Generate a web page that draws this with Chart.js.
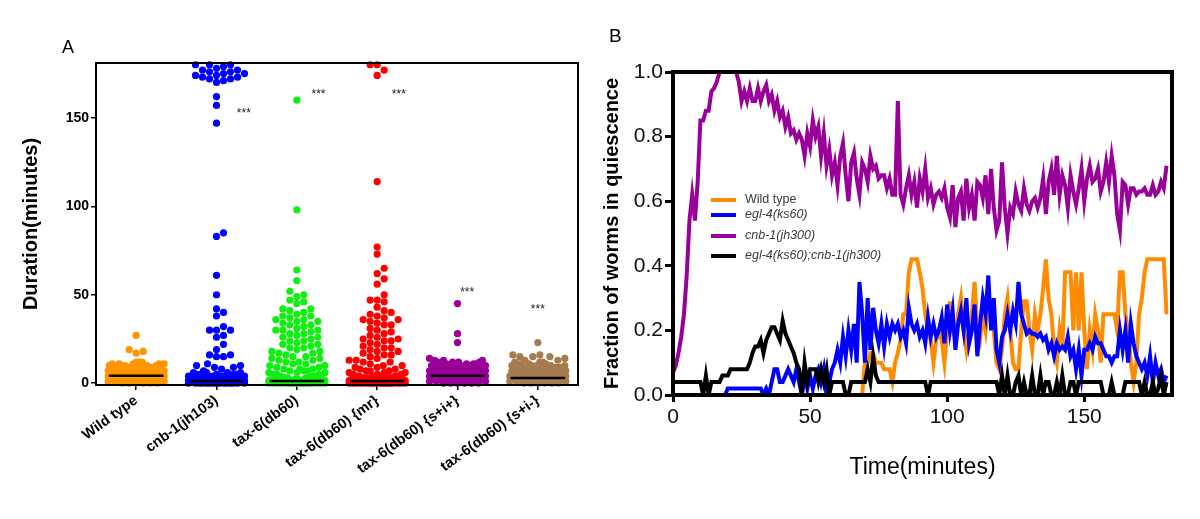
<!DOCTYPE html>
<html>
<head>
<meta charset="utf-8">
<script src="https://cdn.jsdelivr.net/npm/chart.js@4.4.1/dist/chart.umd.min.js"></script>
<style>
  body { margin: 0; background: #fff; width: 1200px; height: 519px; overflow: hidden; position: relative; }
  .panel { position: absolute; top: 0; width: 600px; height: 519px; }
  #panelA { left: 0; }
  #panelB { left: 600px; }
</style>
</head>
<body>
<div class="panel" id="panelA"><canvas id="chartA" width="600" height="519"></canvas></div>
<div class="panel" id="panelB"><canvas id="chartB" width="600" height="519"></canvas></div>
<script>
// ---------- panel A data (durations, minutes) ----------
const categories = ["Wild type", "cnb-1(jh103)", "tax-6(db60)", "tax-6(db60) {mr}", "tax-6(db60) {s+i+}", "tax-6(db60) {s+i-}"];
const dotColors = ["#FF9500", "#0000FF", "#11EE11", "#FF0000", "#990099", "#A67B4F"];

const wildType = [0,0,0,0,0,0,
  1,1,1,1,1,1,1,1,1,1, 2,2,2,2,2,2,2,2,2,2, 3,3,3,3,3,3,3,3,3,3, 4,4,4,4,4,4,4,4,4,4,
  5,5,5,5,5,5,5,5,5, 6,6,6,6,6,6,6,6, 7,7,7,7,7,7,7,7, 8,8,8,8,8,8,8, 9,9,9,9,9,9,
  10,10,10,10,10,10, 11,11,11,11,11, 12,12,12, 17,18,19,27];
const cnb1 = [180,180,180,179,178,177,177,176,176,175,175,174,174,173,173,172,172,171,170,
  162,157,147,85,83,61,50,42,40,38,32,30,30,30,27,26,22,19,16,16,15,15,11,10,10,9,9,8,7,
  0,0,0,0,0,0,0,0,0,0,0,0,0,0,0, 0.5,0.5,0.5,0.5,0.5,0.5,0.5,0.5,0.5,0.5,0.5,0.5,0.5,0.5,0.5,
  1,1,1,1,1,1,1,1,1,1,1,1,1,1,1, 1.5,1.5,1.5,1.5,1.5,1.5,1.5,1.5,1.5,1.5,
  2,2,2,2,2,2,2,2, 3,3,3,3,3,3,3, 4,4,4,4,4,4, 5,5,5,5,5, 6,6,6,6];
const tax6 = [160,98,64,58,52,50,49,47,46,45,42,42,41,40,39,38,38,37,36,36,35,35,34,33,33,32,31,30,30,30,29,28,28,27,26,
  26,25,24,24,23,22,22,21,20,20,19,18,18,17,17,16,15,15,14,14,13,13,12,12,11,11,10,10,9,9,8,8,8,7,7,7,6,6,6,5,5,5,4,4,4,
  0,0,0,0,0,0,0,0,0,0,0,0,0,0,0,0,0,0,0,0, 0.5,0.5,0.5,0.5,0.5,0.5,0.5,0.5,0.5,0.5,0.5,0.5,0.5,0.5,0.5,
  1,1,1,1,1,1,1,1,1,1,1,1,1,1,1, 1.5,1.5,1.5,1.5,1.5,1.5,1.5,1.5,1.5,1.5,
  2,2,2,2,2,2,2,2, 3,3,3,3,3,3];
const tax6mr = [180,180,177,174,114,77,73,65,62,59,56,50,47,47,46,43,41,40,39,38,37,36,36,35,34,33,33,31,30,29,28,27,26,
  25,25,24,24,23,22,21,20,20,19,18,18,17,16,16,15,14,13,13,12,12,11,10,10,9,9,8,8,7,7,7,6,6,6,5,5,5,
  0,0,0,0,0,0,0,0,0,0,0,0,0,0,0,0,0,0,0,0, 0.5,0.5,0.5,0.5,0.5,0.5,0.5,0.5,0.5,0.5,0.5,0.5,0.5,0.5,0.5,
  1,1,1,1,1,1,1,1,1,1,1,1,1,1,1, 1.5,1.5,1.5,1.5,1.5,1.5,1.5,1.5,1.5,1.5,
  2,2,2,2,2,2,2,2, 3,3,3,3,3,3,3,3, 4,4,4,4,4,4];
const tax6sip = [45,28,23,14,13,13,13,12,12,12,12,11,11,11,11,11,10,10,10,10,10,10,
  9,9,9,9,9,9, 8,8,8,8,8,8,8, 7,7,7,7,7,7,7, 6,6,6,6,6,6,6,6, 5,5,5,5,5,5,5,5,
  4,4,4,4,4,4,4,4,4, 3,3,3,3,3,3,3,3,3, 2,2,2,2,2,2,2,2,2, 1,1,1,1,1,1,1,1, 0,0,0,0,0,0];
const tax6sim = [23,16,16,15,15,15,14,13,13,12,12,12,11,11,11,11,10,10,10,10,10,
  9,9,9,9,9,9, 8,8,8,8,8,8, 7,7,7,7,7,7,7, 6,6,6,6,6,6,6, 5,5,5,5,5,5,5,5,
  4,4,4,4,4,4,4,4, 3,3,3,3,3,3,3,3,3, 2,2,2,2,2,2,2,2,2, 1,1,1,1,1,1,1,1, 0,0,0,0,0,0];
const groupValues = [wildType, cnb1, tax6, tax6mr, tax6sip, tax6sim];
const medians = [4.2, 1.3, 1.3, 1.3, 4.2, 3.0];
const starX = [null, 2.34, 3.27, 4.27, 5.12, 6.0];
const starY = [null, 154, 165, 165, 53, 43];
const yTicksA = [0, 50, 100, 150];

// ---------- panel B data (fraction quiescent, one value per minute 0..180) ----------
const seriesLabels = ["Wild type", "egl-4(ks60)", "cnb-1(jh300)", "egl-4(ks60);cnb-1(jh300)"];
const lineColors = ["#FF8C00", "#0000FF", "#990099", "#000000"];
const wildTypeLine = [
  0,0,0,0,0,0,0,0,0,0, 0,0,0,0,0,0,0,0,0,0, 0,0,0,0,0,0,0,0,0,0, 0,0,0,0,0,0,0,0,0,0,
  0,0,0,0,0,0,0,0,0,0, 0,0,0,0,0,0,0,0,0,0, 0,0,0,0,0,0,0,0,0,0,
  0.1,0.1,0.13,0.13,0.1,0.1,0.1,0.08,0.08,0.08,
  0.04,0.1,0.13,0.17,0.25,0.25,0.38,0.42,0.42,0.42,
  0.38,0.33,0.25,0.2,0.17,0.1,0.17,0.2,0.17,0.1,
  0.2,0.29,0.2,0.17,0.25,0.3,0.2,0.14,0.2,0.25,
  0.35,0.2,0.17,0.25,0.2,0.3,0.25,0.2,0.1,0.08,
  0.14,0.25,0.3,0.2,0.1,0.08,0.08,0.2,0.29,0.29,
  0.2,0.14,0.25,0.2,0.25,0.33,0.42,0.3,0.25,0.14,
  0.1,0.2,0.14,0.38,0.38,0.38,0.2,0.38,0.2,0.38,
  0.2,0.08,0.2,0.14,0.25,0.2,0.1,0.25,0.25,0.25,
  0.25,0.25,0.2,0.38,0.38,0.25,0.2,0.1,0.04,0.1,
  0.25,0.3,0.38,0.42,0.42,0.42,0.42,0.42,0.42,0.42,
  0.25];
const egl4Line = [
  0,0,0,0,0,0,0,0,0,0, 0,0,0,0,0,0,0,0,0,0,
  0.02,0.02,0.02,0.02,0.02,0.02,0.02,0.02,0.02,0.02,
  0.02,0.02,0.02,0,0.02,0,0.04,0.08,0.08,0.04,
  0.04,0.06,0.08,0.06,0.04,0.08,0.04,0,0.06,0.02,
  0.06,0.02,0.06,0.08,0.04,0.08,0,0.04,0.08,0.1,
  0.14,0.1,0.18,0.12,0.2,0.14,0.22,0.1,0.35,0.25,
  0.1,0.3,0.14,0.27,0.2,0.16,0.22,0.15,0.22,0.18,
  0.22,0.2,0.22,0.18,0.2,0.16,0.27,0.22,0.2,0.22,
  0.18,0.2,0.16,0.24,0.18,0.22,0.18,0.2,0.24,0.16,
  0.28,0.2,0.26,0.14,0.22,0.26,0.2,0.3,0.16,0.2,
  0.28,0.12,0.22,0.3,0.25,0.37,0.2,0.3,0.14,0.1,
  0.18,0.2,0.25,0.2,0.26,0.22,0.35,0.25,0.22,0.19,
  0.2,0.19,0.19,0.18,0.19,0.17,0.18,0.14,0.16,0.12,
  0.16,0.14,0.15,0.14,0.18,0.12,0.14,0.08,0.14,0.06,
  0.14,0.14,0.16,0.14,0.18,0.16,0.16,0.14,0.12,0.12,
  0.1,0.12,0.12,0.2,0.14,0.2,0.1,0.22,0.16,0.12,
  0.1,0.08,0.1,0.06,0.12,0.04,0.1,0.06,0.08,0.04,
  0.06];
const cnb1Line = [
  0.07,0.09,0.13,0.18,0.25,0.37,0.54,0.62,0.54,0.66,
  0.85,0.85,0.88,0.88,0.94,0.95,0.97,1.0,1.0,1.0,
  1.0,1.0,1.0,1.0,0.97,0.91,0.94,0.91,0.95,0.91,
  0.91,0.95,0.91,0.94,0.96,0.91,0.93,0.88,0.91,0.86,
  0.88,0.83,0.86,0.81,0.82,0.79,0.81,0.79,0.74,0.81,
  0.77,0.85,0.8,0.83,0.74,0.81,0.71,0.76,0.68,0.72,
  0.65,0.74,0.78,0.68,0.6,0.72,0.75,0.67,0.62,0.72,
  0.7,0.66,0.74,0.7,0.71,0.67,0.68,0.68,0.64,0.67,
  0.62,0.62,0.91,0.62,0.59,0.64,0.68,0.62,0.66,0.58,
  0.67,0.63,0.7,0.61,0.64,0.59,0.62,0.63,0.61,0.64,
  0.58,0.55,0.65,0.52,0.61,0.63,0.54,0.67,0.58,0.62,
  0.54,0.66,0.65,0.61,0.68,0.56,0.7,0.58,0.51,0.54,
  0.72,0.58,0.5,0.58,0.56,0.63,0.59,0.57,0.64,0.59,
  0.57,0.6,0.61,0.58,0.61,0.67,0.56,0.66,0.7,0.62,
  0.74,0.62,0.68,0.65,0.58,0.68,0.63,0.59,0.64,0.7,
  0.6,0.67,0.71,0.66,0.67,0.7,0.63,0.66,0.72,0.66,
  0.74,0.68,0.56,0.51,0.66,0.65,0.59,0.64,0.64,0.62,
  0.63,0.63,0.64,0.62,0.62,0.65,0.62,0.63,0.66,0.64,
  0.71];
const doubleLine = [
  0.04,0.04,0.04,0.04,0.04,0.04,0.04,0.04,0.04,0.04,
  0.04,0,0.06,0,0.04,0.04,0.04,0.04,0.06,0.06,
  0.06,0.08,0.08,0.08,0.08,0.08,0.08,0.08,0.1,0.13,
  0.15,0.15,0.17,0.13,0.17,0.19,0.21,0.21,0.19,0.17,
  0.23,0.19,0.17,0.15,0.13,0.1,0.08,0,0.1,0.04,
  0.08,0.08,0.08,0.04,0.08,0.04,0.08,0,0.04,0.04,
  0.04,0.04,0.04,0,0,0.04,0.04,0.04,0.04,0.04,
  0.04,0.08,0.04,0.12,0.06,0.04,0.04,0.04,0.04,0.04,
  0.04,0.04,0.04,0.04,0.04,0.04,0.04,0.04,0.04,0.04,
  0.04,0.04,0.04,0,0.04,0.04,0.04,0.04,0.04,0.04,
  0.04,0.04,0.04,0.04,0.04,0.04,0.04,0.04,0.04,0.04,
  0.04,0.04,0.04,0.04,0.04,0.04,0.04,0.04,0.04,0,
  0.06,0,0.06,0,0,0.04,0.06,0,0.04,0,
  0,0.06,0,0,0.06,0,0.04,0.04,0,0,
  0.04,0,0.06,0,0,0.04,0.04,0,0.04,0.04,
  0.04,0.04,0.04,0.04,0.04,0.04,0.04,0,0,0,
  0.04,0,0,0,0,0.04,0.04,0.04,0.04,0.04,
  0.04,0,0.04,0,0,0.04,0,0.02,0.06,0,
  0.04];
const lineValues = [wildTypeLine, egl4Line, cnb1Line, doubleLine];
const xTicksB = [0, 50, 100, 150];

const FONT = "Arial, 'Liberation Sans', sans-serif";

// beeswarm layout: values that fall in the same row are spread sideways (pixel units -> category units)
const Y_PX = 322 / 182, CAT_PX = 482 / 6, R = 3.6, MAX_HALF = 28;
function swarm(values, center) {
  const d = 2 * R * 0.92;
  const placed = [];
  return values.slice().sort((a, b) => a - b).map(v => {
    const yp = v * Y_PX;
    let best = 0, bestScore = -1;
    for (let k = 0; k <= 2 * MAX_HALF; k++) {
      const off = (k % 2 ? 1 : -1) * Math.ceil(k / 2);
      let minD = Infinity;
      for (const p of placed) {
        const dy = Math.abs(p.y - yp);
        if (dy >= d) continue;
        const dd = Math.max(Math.abs(p.x - off), dy * 0.5);
        if (dd < minD) minD = dd;
      }
      if (minD >= d) { best = off; break; }
      if (minD > bestScore) { bestScore = minD; best = off; }
    }
    placed.push({ x: best, y: yp });
    return { x: center + best / CAT_PX, y: v };
  });
}

const frame = {
  id: "frame",
  afterDatasetsDraw(chart, args, opts) {
    const { ctx, chartArea: a } = chart;
    ctx.save();
    ctx.strokeStyle = "#000";
    ctx.lineWidth = opts.width;
    ctx.strokeRect(a.left, a.top, a.right - a.left, a.bottom - a.top);
    ctx.restore();
  }
};

const panelLabel = {
  id: "panelLabel",
  afterDraw(chart, args, opts) {
    const ctx = chart.ctx;
    ctx.save();
    ctx.fillStyle = "#000";
    ctx.font = opts.size + "px " + FONT;
    ctx.textBaseline = "alphabetic";
    ctx.fillText(opts.text, opts.x, opts.y);
    ctx.restore();
  }
};

// ---------- chart A ----------
const stars = {
  id: "stars",
  afterDraw(chart) {
    const { ctx, scales: { x, y } } = chart;
    ctx.save();
    ctx.fillStyle = "#222";
    ctx.font = "12px " + FONT;
    ctx.textAlign = "center";
    ctx.textBaseline = "middle";
    starX.forEach((sx, i) => {
      if (sx == null) return;
      ctx.fillText("***", x.getPixelForValue(sx), y.getPixelForValue(starY[i]) + 3);
    });
    ctx.restore();
  }
};

const medianSets = medians.map((m, i) => ({
  type: "scatter",
  data: [{ x: i + 1 - 0.34, y: m }, { x: i + 1 + 0.34, y: m }],
  showLine: true,
  borderColor: "#000",
  borderWidth: 2.5,
  pointRadius: 0,
  order: 0,
  clip: false
}));
const dotSets = groupValues.map((vals, i) => ({
  type: "scatter",
  label: categories[i],
  data: swarm(vals, i + 1),
  backgroundColor: dotColors[i],
  borderWidth: 0,
  pointRadius: R,
  order: 1,
  clip: false
}));

new Chart(document.getElementById("chartA"), {
  type: "scatter",
  data: { datasets: [...medianSets, ...dotSets] },
  options: {
    responsive: false,
    animation: false,
    events: [],
    layout: { padding: { top: 63, right: 22, left: 0, bottom: 0 } },
    plugins: {
      legend: { display: false },
      tooltip: { enabled: false },
      frame: { width: 2 },
      panelLabel: { text: "A", x: 62, y: 53, size: 18 }
    },
    scales: {
      x: {
        type: "linear",
        min: 0.5, max: 6.5,
        afterBuildTicks: s => { s.ticks = categories.map((c, i) => ({ value: i + 1 })); },
        afterFit: s => { s.height = 519 - 385; },
        ticks: {
          callback: v => categories[v - 1],
          minRotation: 36, maxRotation: 36, autoSkip: false,
          color: "#000", padding: 2,
          font: { family: FONT, weight: "bold", size: 14.5 }
        },
        grid: { drawOnChartArea: false, tickLength: 5, color: "#000", lineWidth: 1.5 },
        border: { color: "#000", width: 2 }
      },
      y: {
        min: -1, max: 181,
        afterBuildTicks: s => { s.ticks = yTicksA.map(v => ({ value: v })); },
        afterFit: s => { s.width = 96; },
        ticks: { color: "#000", padding: 2, font: { family: FONT, weight: "bold", size: 14 } },
        grid: { drawOnChartArea: false, tickLength: 5, color: "#000", lineWidth: 1.5 },
        border: { color: "#000", width: 2 },
        title: {
          display: true, text: "Duration(minutes)", color: "#000",
          padding: { top: 19 },
          font: { family: FONT, weight: "bold", size: 20 }
        }
      }
    }
  },
  plugins: [frame, stars, panelLabel]
});

// ---------- chart B ----------
const legendB = {
  id: "legendB",
  afterDraw(chart) {
    const ctx = chart.ctx;
    const rows = [200, 215, 236, 256];
    ctx.save();
    chart.data.datasets.forEach((ds, i) => {
      ctx.strokeStyle = ds.borderColor;
      ctx.lineWidth = 4;
      ctx.beginPath();
      ctx.moveTo(111, rows[i]);
      ctx.lineTo(136, rows[i]);
      ctx.stroke();
      ctx.fillStyle = "#3a3a3a";
      ctx.font = (i === 0 ? "" : "italic ") + "12.5px " + FONT;
      ctx.textBaseline = "middle";
      ctx.fillText(ds.label, 145, rows[i]);
    });
    ctx.restore();
  }
};

new Chart(document.getElementById("chartB"), {
  type: "line",
  data: {
    datasets: lineValues.map((vals, i) => ({
      label: seriesLabels[i],
      data: vals.map((v, t) => ({ x: t, y: v })),
      borderColor: lineColors[i],
      borderWidth: 4,
      pointRadius: 0,
      tension: 0,
      fill: false,
      order: 4 - i
    }))
  },
  options: {
    responsive: false,
    animation: false,
    events: [],
    layout: { padding: { top: 72, right: 28, left: 0, bottom: 0 } },
    plugins: {
      legend: { display: false },
      tooltip: { enabled: false },
      frame: { width: 4 },
      panelLabel: { text: "B", x: 9, y: 42, size: 19 }
    },
    scales: {
      x: {
        type: "linear",
        min: 0, max: 182,
        afterBuildTicks: s => { s.ticks = xTicksB.map(v => ({ value: v })); },
        afterFit: s => { s.height = 519 - 395; },
        ticks: { color: "#111", padding: 3, font: { family: FONT, size: 21 } },
        grid: { drawOnChartArea: false, tickLength: 7, color: "#000", lineWidth: 3 },
        border: { color: "#000", width: 4 },
        title: {
          display: true, text: "Time(minutes)", color: "#000",
          padding: { bottom: 38 },
          font: { family: FONT, size: 23 }
        }
      },
      y: {
        min: 0, max: 1,
        ticks: { stepSize: 0.2, color: "#111", padding: 2, callback: v => v.toFixed(1), font: { family: FONT, size: 21 } },
        afterFit: s => { s.width = 73; },
        grid: { drawOnChartArea: false, tickLength: 8, color: "#000", lineWidth: 3 },
        border: { color: "#000", width: 4 },
        title: {
          display: true, text: "Fraction of worms in quiescence", color: "#000",
          padding: { top: 0 },
          font: { family: FONT, weight: "bold", size: 20 }
        }
      }
    }
  },
  plugins: [frame, legendB, panelLabel]
});
</script>
</body>
</html>
